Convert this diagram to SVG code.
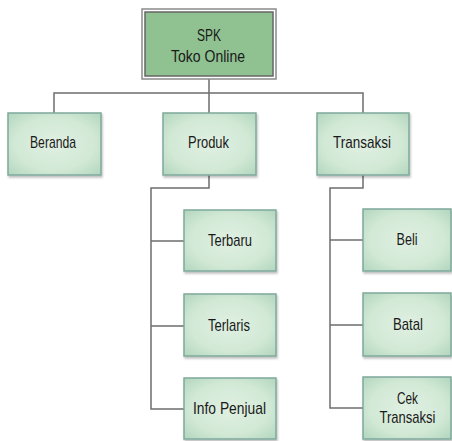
<svg xmlns="http://www.w3.org/2000/svg" width="452" height="441" viewBox="0 0 452 441">
<defs>
<radialGradient id="g" cx="50%" cy="50%" r="70%">
<stop offset="0%" stop-color="#e0f0e2"/>
<stop offset="60%" stop-color="#d2e9d6"/>
<stop offset="100%" stop-color="#b2d6bd"/>
</radialGradient>
<filter id="sh" x="-10%" y="-10%" width="130%" height="130%">
<feDropShadow dx="1" dy="2" stdDeviation="1.2" flood-color="#000" flood-opacity="0.25"/>
</filter>
<style>
.box{fill:url(#g);stroke:#7fa99c;stroke-width:1.5;filter:url(#sh)}
.t{font-family:"Liberation Sans Narrow","Liberation Sans",Arial,sans-serif;font-size:17px;fill:#1a1a1a;text-anchor:middle}
.c{fill:none;stroke:#6e6e6e;stroke-width:1.5}
</style>
</defs>
<rect width="452" height="441" fill="#ffffff"/>
<g id="connectors">
<path class="c" d="M209,79 V113 M54,113 V93 H363 V113"/>
<path class="c" d="M209,175 V188 H151 V409 H184 M151,241 H184 M151,326 H184"/>
<path class="c" d="M363,175 V188 H330 V408 H363 M330,240 H363 M330,325 H363"/>
</g>
<g id="root">
<rect x="142" y="9" width="134" height="70" fill="#ffffff" stroke="#8a8a8a" stroke-width="1.5"/>
<rect x="145" y="12" width="128" height="64" fill="#8fc191" stroke="#666666" stroke-width="1.5"/>
<text class="t" x="209" y="41" textLength="24" lengthAdjust="spacingAndGlyphs">SPK</text>
<text class="t" x="208" y="62" textLength="74" lengthAdjust="spacingAndGlyphs">Toko Online</text>
</g>
<g id="beranda">
<rect class="box" x="8" y="113" width="93" height="62"/>
<text class="t" x="53" y="148" textLength="46" lengthAdjust="spacingAndGlyphs">Beranda</text>
</g>
<g id="produk">
<rect class="box" x="163" y="113" width="93" height="62"/>
<text class="t" x="208.5" y="148" textLength="41" lengthAdjust="spacingAndGlyphs">Produk</text>
</g>
<g id="transaksi">
<rect class="box" x="317" y="113" width="92" height="62"/>
<text class="t" x="362" y="148" textLength="58" lengthAdjust="spacingAndGlyphs">Transaksi</text>
</g>
<g id="terbaru">
<rect class="box" x="184" y="210" width="92" height="61"/>
<text class="t" x="230" y="246" textLength="44" lengthAdjust="spacingAndGlyphs">Terbaru</text>
</g>
<g id="terlaris">
<rect class="box" x="184" y="294" width="92" height="62"/>
<text class="t" x="229" y="331" textLength="42" lengthAdjust="spacingAndGlyphs">Terlaris</text>
</g>
<g id="info-penjual">
<rect class="box" x="184" y="378" width="92" height="61"/>
<text class="t" x="229.5" y="414" textLength="73" lengthAdjust="spacingAndGlyphs">Info Penjual</text>
</g>
<g id="beli">
<rect class="box" x="363" y="209" width="88" height="62"/>
<text class="t" x="407" y="245" textLength="21" lengthAdjust="spacingAndGlyphs">Beli</text>
</g>
<g id="batal">
<rect class="box" x="363" y="293" width="88" height="63"/>
<text class="t" x="408" y="330" textLength="30" lengthAdjust="spacingAndGlyphs">Batal</text>
</g>
<g id="cek-transaksi">
<rect class="box" x="363" y="377" width="88" height="62"/>
<text class="t" x="407.5" y="404" textLength="21" lengthAdjust="spacingAndGlyphs">Cek</text>
<text class="t" x="407.5" y="423" textLength="56" lengthAdjust="spacingAndGlyphs">Transaksi</text>
</g>
</svg>
